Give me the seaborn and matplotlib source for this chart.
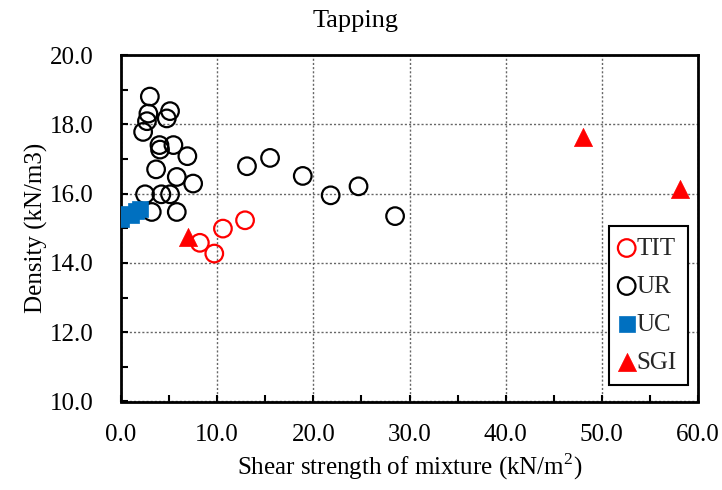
import matplotlib
matplotlib.use("Agg")
import matplotlib.pyplot as plt
import seaborn as sns
import pandas as pd
from matplotlib.ticker import MultipleLocator, FormatStrFormatter

# ---- data ----
tit_x = [8.2, 9.7, 10.6, 12.9]
tit_y = [14.58, 14.27, 14.99, 15.23]

ur_x = [3.0, 2.85, 5.1, 4.76, 2.7, 2.3, 4.0, 5.45, 4.06, 6.9, 3.65, 5.8, 7.5,
        2.5, 4.2, 5.1, 3.2, 5.8, 13.1, 15.5, 18.9, 21.8, 24.7, 28.5]
ur_y = [18.8, 18.31, 18.38, 18.17, 18.09, 17.78, 17.4, 17.4, 17.27, 17.08, 16.7, 16.48, 16.29,
        15.98, 15.98, 15.98, 15.47, 15.47, 16.79, 17.03, 16.51, 15.95, 16.21, 15.35]

uc_x = [0.0, 0.3, 1.0, 1.6, 2.0]
uc_y = [15.26, 15.40, 15.37, 15.49, 15.55]

sgi_x = [7.0, 48.0, 58.1]
sgi_y = [14.76, 17.62, 16.12]

title = "Tapping"
xlabel = "Shear strength of mixture (kN/m$^{2}$)"
ylabel = "Density (kN/m3)"

sns.set_theme(style="white")
plt.rcParams["font.family"] = ["Liberation Serif", "DejaVu Serif"]
plt.rcParams["mathtext.fontset"] = "custom"
plt.rcParams["mathtext.rm"] = "Liberation Serif"
FS = 18

fig = plt.figure(figsize=(7.22, 4.90), dpi=100)
ax = fig.add_axes([121 / 722, 1 - 401.5 / 490, (698 - 121) / 722, (401.5 - 55) / 490])

ax.grid(True, which="major", color="#666666", linestyle=(0, (1.5, 1.5)), linewidth=1.0)

sns.scatterplot(x=tit_x, y=tit_y, ax=ax, marker="o", s=160, facecolors="none",
                edgecolors="#ff0000", linewidth=1.6, label="TIT", zorder=3)
sns.scatterplot(x=ur_x, y=ur_y, ax=ax, marker="o", s=160, facecolors="none",
                edgecolors="#000000", linewidth=1.6, label="UR", zorder=3)
sns.scatterplot(x=uc_x, y=uc_y, ax=ax, marker="s", s=125, color="#0070c0",
                edgecolor="#0070c0", linewidth=0.5, label="UC", zorder=4)
sns.scatterplot(x=sgi_x, y=sgi_y, ax=ax, marker="^", s=170, color="#ff0000",
                edgecolor="#ff0000", linewidth=0.5, label="SGI", zorder=4)

ax.set_xlim(0, 60)
ax.set_ylim(10, 20)
ax.xaxis.set_major_locator(MultipleLocator(10))
ax.xaxis.set_minor_locator(MultipleLocator(5))
ax.yaxis.set_major_locator(MultipleLocator(2))
ax.yaxis.set_minor_locator(MultipleLocator(1))
ax.xaxis.set_major_formatter(FormatStrFormatter("%.1f"))
ax.yaxis.set_major_formatter(FormatStrFormatter("%.1f"))
ax.tick_params(which="both", direction="in", color="black", width=1.5,
               labelsize=FS, labelcolor="black")
ax.tick_params(which="both", length=5)
ax.tick_params(axis="x", which="major", pad=16)
ax.tick_params(axis="y", which="major", pad=20)
ax.tick_params(axis="x", which="both", bottom=True, top=False)
ax.tick_params(axis="y", which="both", left=True, right=False)

for sp in ax.spines.values():
    sp.set_visible(True)
    sp.set_color("black")
    sp.set_linewidth(2.0)

fig.text(356 / 722, 1 - 27 / 490, title, fontsize=19, color="black",
         ha="center", va="baseline")
ax.set_xlabel(xlabel, fontsize=FS, color="black", labelpad=4)
ax.set_ylabel(ylabel, fontsize=FS, color="black", labelpad=1)

leg = ax.legend(loc="upper right", bbox_to_anchor=(0.983, 0.507), borderaxespad=0,
                fontsize=FS, frameon=True, fancybox=False, edgecolor="black",
                handlelength=0.5, handletextpad=0.15, labelspacing=0.62,
                borderpad=0.45, markerscale=1.0)
leg.get_frame().set_linewidth(1.5)
leg.get_frame().set_alpha(1)

fig.savefig("out.png", dpi=100)
